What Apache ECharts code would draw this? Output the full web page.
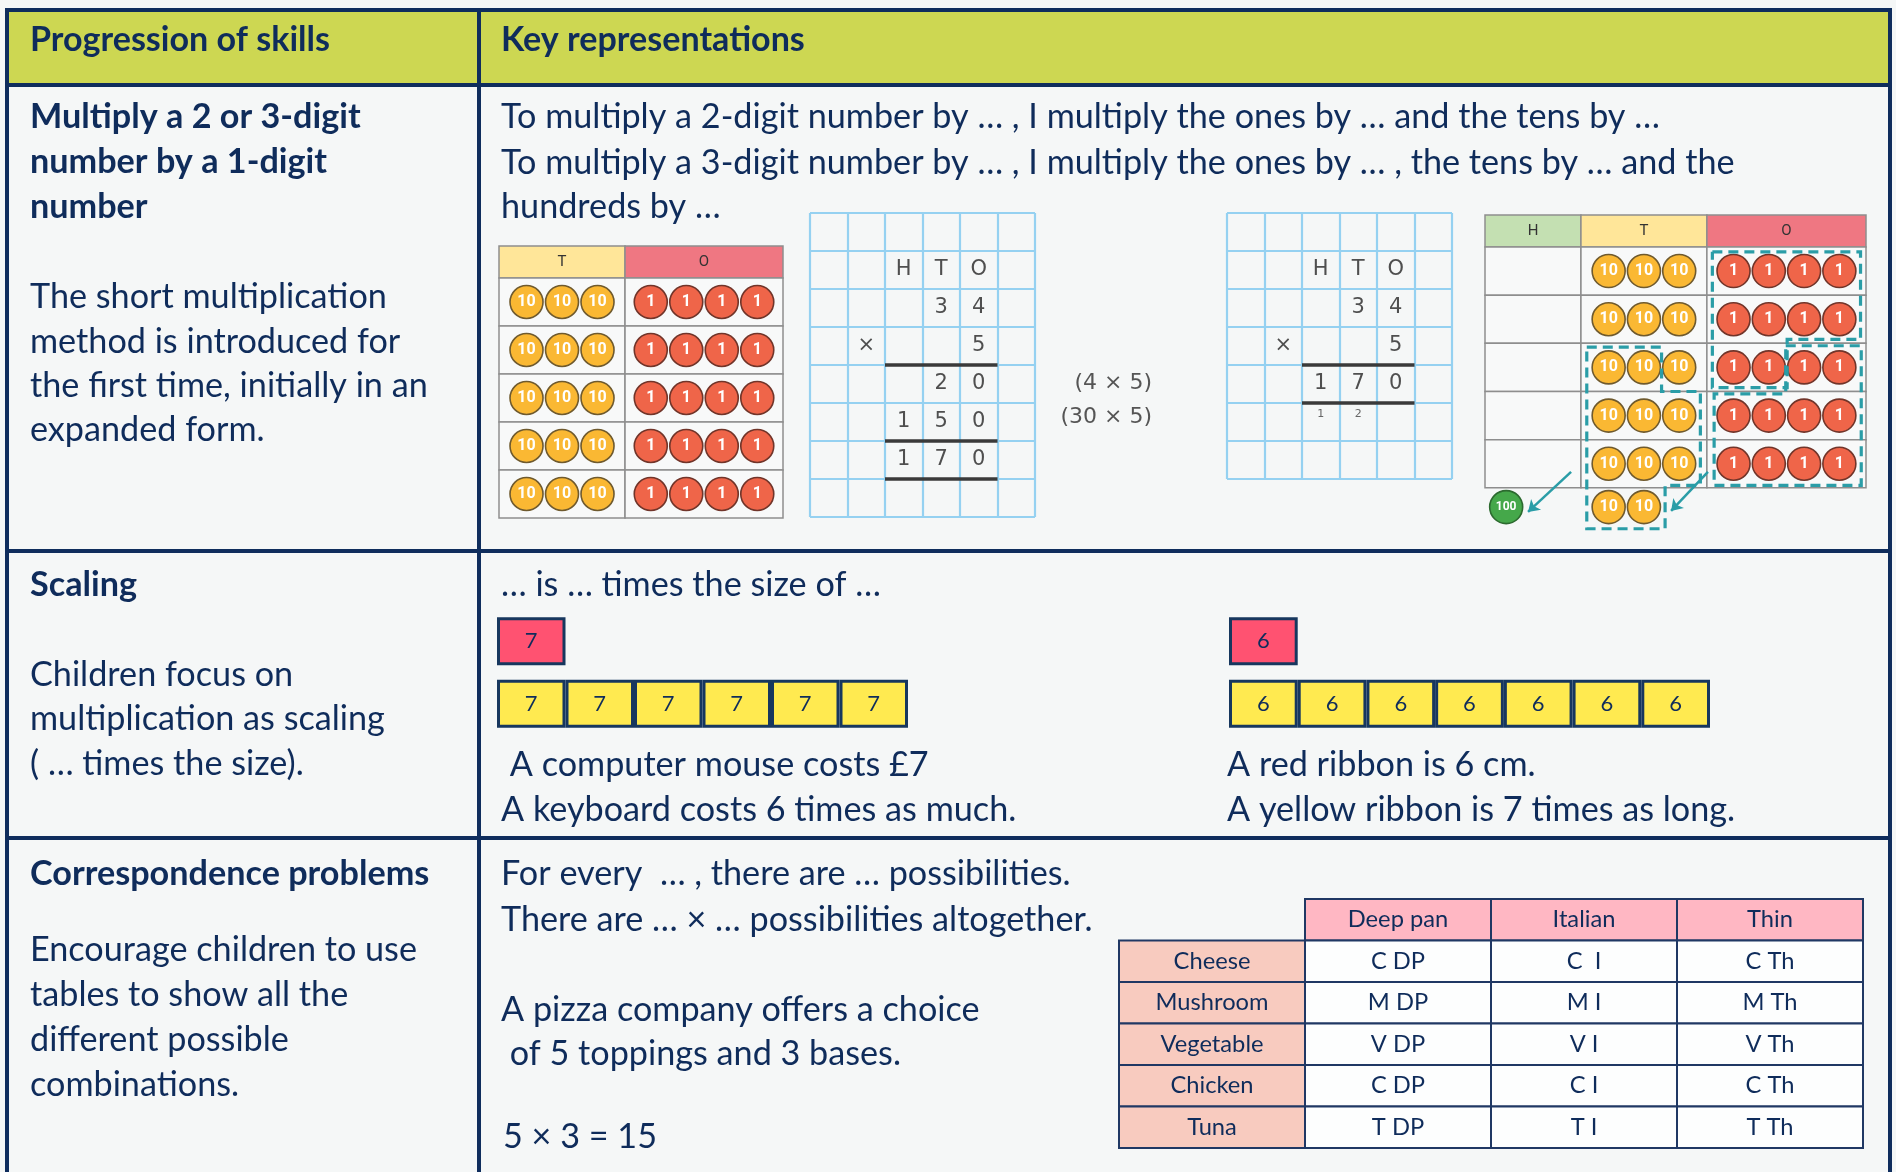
<!DOCTYPE html>
<html><head><meta charset="utf-8">
<script src="https://cdn.jsdelivr.net/npm/echarts@6/dist/echarts.min.js"></script>
<style>html,body{margin:0;padding:0;background:#F5F7F7}#c{width:1896px;height:1172px}</style>
</head><body><div id="c"></div>
<script>
// ================= DATA =================
const headerTitles = ['Progression of skills', 'Key representations'];
const skillTitles = [['Multiply a 2 or 3-digit', 'number by a 1-digit', 'number'], ['Scaling'], ['Correspondence problems']];
const skillNotes = [
  ['The short multiplication', 'method is introduced for', 'the first time, initially in an', 'expanded form.'],
  ['Children focus on', 'multiplication as scaling', '( … times the size).'],
  ['Encourage children to use', 'tables to show all the', 'different possible', 'combinations.']
];
const multiplyStems = [
  'To multiply a 2-digit number by … , I multiply the ones by … and the tens by …',
  'To multiply a 3-digit number by … , I multiply the ones by … , the tens by … and the',
  'hundreds by …'
];
// place-value counters: 34 x 5
const toColumns = ['T', 'O'];
const toTensPerRow = [3, 3, 3, 3, 3];
const toOnesPerRow = [4, 4, 4, 4, 4];
const htoColumns = ['H', 'T', 'O'];
const htoTensPerRow = [3, 3, 3, 3, 3];
const htoOnesPerRow = [4, 4, 4, 4, 4];
const htoNewHundreds = 1;
const htoCarriedTens = 2;
const counterValues = { hundreds: 100, tens: 10, ones: 1 };
// written methods
const expandedRows = [
  ['', '', '', '', '', ''],
  ['', '', 'H', 'T', 'O', ''],
  ['', '', '', '3', '4', ''],
  ['', '×', '', '', '5', ''],
  ['', '', '', '2', '0', ''],
  ['', '', '1', '5', '0', ''],
  ['', '', '1', '7', '0', ''],
  ['', '', '', '', '', '']
];
const expandedRuleRows = [3, 5, 6];
const expandedNotes = ['(4 × 5)', '(30 × 5)'];
const compactRows = [
  ['', '', '', '', '', ''],
  ['', '', 'H', 'T', 'O', ''],
  ['', '', '', '3', '4', ''],
  ['', '×', '', '', '5', ''],
  ['', '', '1', '7', '0', ''],
  ['', '', '', '', '', ''],
  ['', '', '', '', '', '']
];
const compactCarries = ['', '', '1', '2', '', ''];
const compactCarryRow = 5;
const compactRuleRows = [3, 4];
// scaling
const scalingStem = '… is … times the size of …';
const mouseCost = 7, keyboardTimes = 6;
const mouseText = [' A computer mouse costs £7', 'A keyboard costs 6 times as much.'];
const ribbonLength = 6, ribbonTimes = 7;
const ribbonText = ['A red ribbon is 6 cm.', 'A yellow ribbon is 7 times as long.'];
// correspondence
const pizzaStems = ['For every  … , there are … possibilities.', 'There are … × … possibilities altogether.'];
const pizzaProblem = ['A pizza company offers a choice', ' of 5 toppings and 3 bases.'];
const pizzaAnswer = '5 × 3 = 15';
const pizzaBases = ['Deep pan', 'Italian', 'Thin'];
const pizzaToppings = ['Cheese', 'Mushroom', 'Vegetable', 'Chicken', 'Tuna'];
const pizzaCombos = [
  ['C DP', 'C  I', 'C Th'],
  ['M DP', 'M I', 'M Th'],
  ['V DP', 'V I', 'V Th'],
  ['C DP', 'C I', 'C Th'],
  ['T DP', 'T I', 'T Th']
];

// ================= STYLE / LAYOUT =================
const NAVY = '#0F2D5D', INK = '#0F2C5B', BG = '#F5F7F7', HEAD = '#CDD752', TEAL = '#2A9DA7';
const FAMILY = 'Lato';
const mctx = document.createElement('canvas').getContext('2d');
function fitPx(text, target, weight) {
  mctx.font = (weight || 'normal') + ' 100px ' + FAMILY;
  return Math.round(1000 * target / mctx.measureText(text).width) / 10;
}
const bodyPx = fitPx(multiplyStems[0], 1158);
const boldPx = fitPx(skillTitles[2][0], 400, 'bold');
const headPx = fitPx(headerTitles[0], 300, 'bold');
const cellPx = fitPx('Mushroom', 113);
const BODY = bodyPx + 'px ' + FAMILY, BOLD = 'bold ' + boldPx + 'px ' + FAMILY, HBOLD = 'bold ' + headPx + 'px ' + FAMILY;

function txt(x, y, text, font, fill, align) {
  const a = align || 'left';
  return { type: 'text', x: x, y: y, silent: true, z: 10,
    style: { text: text, font: font, fill: fill || INK, align: a, verticalAlign: 'middle', textAlign: a, textVerticalAlign: 'middle' } };
}
function hline(y, x1, x2) { return { type: 'line', silent: true, z: 20, shape: { x1: x1, y1: y, x2: x2, y2: y }, style: { stroke: NAVY, lineWidth: 4 } }; }
function vline(x, y1, y2) { return { type: 'line', silent: true, z: 20, shape: { x1: x, y1: y1, x2: x, y2: y2 }, style: { stroke: NAVY, lineWidth: 4 } }; }

const FX0 = 7, FX1 = 1890, FDIV = 479, FY = [10, 85, 551, 838];
const LX = 30, RX = 501, RX2 = 1227;

const graphics = [
  { type: 'rect', silent: true, z: 1, shape: { x: FX0, y: FY[0], width: FX1 - FX0, height: FY[1] - FY[0] }, style: { fill: HEAD } },
  hline(FY[0], FX0 - 2, FX1 + 2), hline(FY[1], FX0, FX1), hline(FY[2], FX0, FX1), hline(FY[3], FX0, FX1),
  vline(FX0, FY[0], 1180), vline(FDIV, FY[0], 1180), vline(FX1, FY[0], 1180),
  txt(LX, 40, headerTitles[0], HBOLD), txt(RX, 40, headerTitles[1], HBOLD)
];
// left column
const titleY = [[117, 162, 207], [585], [874]];
const noteY = [[297, 342, 386, 430], [675, 719, 764], [950, 995, 1040, 1085]];
skillTitles.forEach((ls, r) => ls.forEach((l, i) => graphics.push(txt(LX, titleY[r][i], l, BOLD))));
skillNotes.forEach((ls, r) => ls.forEach((l, i) => graphics.push(txt(LX, noteY[r][i], l, BODY))));
// right column text
[117, 163, 207].forEach((y, i) => graphics.push(txt(RX, y, multiplyStems[i], BODY)));
graphics.push(txt(RX, 585, scalingStem, BODY));
graphics.push(txt(RX, 765, mouseText[0], BODY), txt(RX, 810, mouseText[1], BODY));
graphics.push(txt(RX2, 765, ribbonText[0], BODY), txt(RX2, 810, ribbonText[1], BODY));
graphics.push(txt(RX, 874, pizzaStems[0], BODY), txt(RX, 920, pizzaStems[1], BODY));
graphics.push(txt(RX, 1010, pizzaProblem[0], BODY), txt(RX, 1054, pizzaProblem[1], BODY));
graphics.push(txt(503, 1137, pizzaAnswer, BODY));
graphics.push(txt(1152, 383, expandedNotes[0], '22px DejaVu Sans', '#555', 'right'));
graphics.push(txt(1152, 417, expandedNotes[1], '22px DejaVu Sans', '#555', 'right'));

// ================= GRIDS =================
const gridBoxes = [
  { left: 499, top: 246, width: 284, height: 272 },   // 0 TO counters
  { left: 810, top: 213, width: 225, height: 304 },   // 1 expanded method
  { left: 1227, top: 213, width: 225, height: 266 },  // 2 compact method
  { left: 1485, top: 215, width: 381, height: 321 },  // 3 HTO counters
  { left: 497, top: 610, width: 411, height: 125 },   // 4 mouse bar model
  { left: 1229, top: 610, width: 481, height: 125 },  // 5 ribbon bar model
  { left: 1119, top: 899, width: 744, height: 249 }   // 6 pizza table
];
const toW = [3.55, 4.45], toHead = 0.667;
const htoW = [2.72, 3.57, 4.51], htoHead = 0.664;
const sum = a => a.reduce((s, v) => s + v, 0);
const hiddenVal = (min, max, inv) => ({ type: 'value', min: min, max: max, show: false, inverse: !!inv, splitLine: { show: false } });
const gridVal = (max, inv) => ({ type: 'value', min: 0, max: max, interval: 1, inverse: !!inv, axisLine: { show: false }, axisTick: { show: false }, axisLabel: { show: false },
  splitLine: { show: true, showMinLine: true, showMaxLine: true, lineStyle: { color: '#95D1F1', width: 2.2 } } });
const xAxes = [
  hiddenVal(0, sum(toW)), gridVal(expandedRows[0].length), gridVal(compactRows[0].length), hiddenVal(0, sum(htoW)),
  hiddenVal(0, mouseCost * keyboardTimes), hiddenVal(0, ribbonLength * ribbonTimes), hiddenVal(0, pizzaBases.length + 1)
];
const yAxes = [
  hiddenVal(0, toHead + toTensPerRow.length, true), gridVal(expandedRows.length, true), gridVal(compactRows.length, true),
  hiddenVal(0, htoHead + htoTensPerRow.length + 1, true),
  { type: 'category', data: ['unit', 'whole'], inverse: true, show: false },
  { type: 'category', data: ['unit', 'whole'], inverse: true, show: false },
  hiddenVal(0, pizzaToppings.length + 1, true)
];
xAxes.forEach((a, i) => a.gridIndex = i);
yAxes.forEach((a, i) => a.gridIndex = i);

function colStart(ws, k) { let s = 0; for (let i = 0; i < k; i++) s += ws[i]; return s; }
function colMid(ws, k) { return colStart(ws, k) + ws[k] / 2; }
function slotX(ws, k, i, n) { return colMid(ws, k) + (i - (n - 1) / 2); }

function cellSeries(gi, cells, z) {
  return {
    type: 'custom', xAxisIndex: gi, yAxisIndex: gi, z: z || 2, silent: true, clip: false, animation: false,
    encode: { x: [0, 2], y: [1, 3] },
    data: cells.map(c => [c.x0, c.y0, c.x1, c.y1]),
    renderItem: function (params, api) {
      const c = cells[params.dataIndex];
      const p0 = api.coord([api.value(0), api.value(1)]);
      const p1 = api.coord([api.value(2), api.value(3)]);
      const el = { type: 'rect',
        shape: { x: Math.min(p0[0], p1[0]), y: Math.min(p0[1], p1[1]), width: Math.abs(p1[0] - p0[0]), height: Math.abs(p1[1] - p0[1]) },
        style: { fill: c.fill || 'rgba(0,0,0,0)', stroke: c.stroke || null, lineWidth: c.lw || 0 } };
      if (c.text) {
        el.textContent = { style: { text: c.text, fill: c.color || INK, font: c.font, align: 'center', verticalAlign: 'middle' } };
        el.textConfig = { position: 'inside' };
      }
      return el;
    }
  };
}
const COUNTER = {
  hundreds: { fill: '#45A84A', stroke: '#2C6A2F', fs: 12 },
  tens: { fill: '#FAB833', stroke: '#6F5A2E', fs: 16 },
  ones: { fill: '#EF6549', stroke: '#71352A', fs: 16 }
};
function counterSeries(gi, pts, kind) {
  const st = COUNTER[kind];
  return { type: 'scatter', xAxisIndex: gi, yAxisIndex: gi, z: 4, silent: true, symbol: 'circle', symbolSize: 33, data: pts,
    itemStyle: { color: st.fill, borderColor: st.stroke, borderWidth: 1.6, opacity: 1 },
    label: { show: true, position: 'inside', formatter: String(counterValues[kind]), color: '#fff', fontFamily: 'Roboto', fontWeight: 'bold', fontSize: st.fs } };
}
const HEADFILL = { H: '#C4E0B2', T: '#FFE699', O: '#EF7782' };
function pvTableCells(ws, head, nRows, labels) {
  const cells = [];
  labels.forEach((lab, k) => {
    const x0 = colStart(ws, k), x1 = x0 + ws[k];
    cells.push({ x0: x0, y0: 0, x1: x1, y1: head, fill: HEADFILL[lab], stroke: '#8E8E8E', lw: 1.5, text: lab, font: '15px Roboto', color: '#333' });
    for (let r = 0; r < nRows; r++) cells.push({ x0: x0, y0: head + r, x1: x1, y1: head + r + 1, fill: '#F8F9F9', stroke: '#8E8E8E', lw: 1.5 });
  });
  return cells;
}
function countersIn(ws, col, head, perRow) {
  const pts = [];
  perRow.forEach((n, r) => { for (let i = 0; i < n; i++) pts.push([slotX(ws, col, i, n), head + r + 0.5]); });
  return pts;
}
function digitCells(rows, font) {
  const cells = [];
  rows.forEach((row, r) => row.forEach((t, c) => { if (t) cells.push({ x0: c, y0: r, x1: c + 1, y1: r + 1, text: t, font: font, color: '#4F4F4F' }); }));
  return cells;
}
function ruleSeries(gi, ruleRows) {
  return { type: 'lines', coordinateSystem: 'cartesian2d', xAxisIndex: gi, yAxisIndex: gi, z: 5, silent: true, symbol: 'none',
    lineStyle: { color: '#3A3A3A', width: 3.5, opacity: 1 },
    data: ruleRows.map(r => ({ coords: [[2, r + 1], [5, r + 1]] })) };
}

const series = [];
// --- TO table with counters (grid 0)
series.push(cellSeries(0, pvTableCells(toW, toHead, toTensPerRow.length, toColumns)));
series.push(counterSeries(0, countersIn(toW, 0, toHead, toTensPerRow), 'tens'));
series.push(counterSeries(0, countersIn(toW, 1, toHead, toOnesPerRow), 'ones'));
// --- expanded method (grid 1)
series.push(cellSeries(1, digitCells(expandedRows, '21px DejaVu Sans')));
series.push(ruleSeries(1, expandedRuleRows));
// --- compact method (grid 2)
const carryCells = [];
compactCarries.forEach((t, c) => { if (t) carryCells.push({ x0: c, y0: compactCarryRow, x1: c + 1, y1: compactCarryRow + 0.6, text: t, font: '11px DejaVu Sans', color: '#666' }); });
series.push(cellSeries(2, digitCells(compactRows, '21px DejaVu Sans').concat(carryCells)));
series.push(ruleSeries(2, compactRuleRows));
// --- HTO table with regrouping (grid 3)
series.push(cellSeries(3, pvTableCells(htoW, htoHead, htoTensPerRow.length, htoColumns)));
series.push(counterSeries(3, countersIn(htoW, 1, htoHead, htoTensPerRow), 'tens'));
series.push(counterSeries(3, countersIn(htoW, 2, htoHead, htoOnesPerRow), 'ones'));
const extraY = htoHead + htoTensPerRow.length + 0.4;
const hundPts = []; for (let i = 0; i < htoNewHundreds; i++) hundPts.push([colStart(htoW, 0) + 0.6 + i, extraY]);
const carryPts = []; for (let i = 0; i < htoCarriedTens; i++) carryPts.push([slotX(htoW, 1, i, 3), extraY]);
series.push(counterSeries(3, hundPts, 'hundreds'));
series.push(counterSeries(3, carryPts, 'tens'));
const tx = i => slotX(htoW, 1, i, 3), ox = i => slotX(htoW, 2, i, 4), ry = r => htoHead + r + 0.5;
const onesGroupA = [[ox(0) - 0.6, ry(0) - 0.4], [ox(3) + 0.6, ry(0) - 0.4], [ox(3) + 0.6, ry(1) + 0.42], [ox(1) + 0.52, ry(1) + 0.42], [ox(1) + 0.52, ry(2) + 0.42], [ox(0) - 0.6, ry(2) + 0.42], [ox(0) - 0.6, ry(0) - 0.4]];
const onesGroupB = [[ox(2) - 0.52, ry(2) - 0.45], [ox(3) + 0.62, ry(2) - 0.45], [ox(3) + 0.62, ry(4) + 0.45], [ox(0) - 0.55, ry(4) + 0.45], [ox(0) - 0.55, ry(2) + 0.55], [ox(2) - 0.52, ry(2) + 0.55], [ox(2) - 0.52, ry(2) - 0.45]];
const tensGroup = [[tx(0) - 0.62, ry(2) - 0.42], [tx(1) + 0.5, ry(2) - 0.42], [tx(1) + 0.5, ry(2) + 0.5], [tx(2) + 0.6, ry(2) + 0.5], [tx(2) + 0.6, ry(4) + 0.45], [tx(1) + 0.6, ry(4) + 0.45], [tx(1) + 0.6, extraY + 0.45], [tx(0) - 0.62, extraY + 0.45], [tx(0) - 0.62, ry(2) - 0.42]];
series.push({ type: 'lines', coordinateSystem: 'cartesian2d', xAxisIndex: 3, yAxisIndex: 3, polyline: true, z: 6, silent: true, symbol: 'none',
  lineStyle: { color: TEAL, width: 3.2, type: [10, 6], opacity: 1 }, data: [onesGroupA, onesGroupB, tensGroup].map(p => ({ coords: p })) });
series.push({ type: 'lines', coordinateSystem: 'cartesian2d', xAxisIndex: 3, yAxisIndex: 3, z: 6, silent: true, symbol: ['none', 'arrow'], symbolSize: 11,
  lineStyle: { color: TEAL, width: 2.5, opacity: 1 },
  data: [{ coords: [[htoW[0] - 0.28, ry(4) + 0.17], [hundPts[0][0] + 0.62, extraY + 0.1]] },
         { coords: [[colStart(htoW, 2) + 0.03, ry(4) + 0.17], [tx(1) + 0.77, extraY + 0.08]] }] });
// --- bar models (grids 4, 5)
function barModel(gi, unit, times) {
  const base = { type: 'bar', xAxisIndex: gi, yAxisIndex: gi, stack: 'model' + gi, barWidth: 48, silent: true, z: 3,
    label: { show: true, position: 'inside', formatter: '{c}', color: INK, fontFamily: FAMILY, fontSize: 22 } };
  const out = [Object.assign({}, base, { data: [unit, '-'], itemStyle: { color: '#FF5271', borderColor: '#17375E', borderWidth: 3 } })];
  for (let k = 0; k < times; k++) out.push(Object.assign({}, base, { data: ['-', unit], itemStyle: { color: '#FFEA50', borderColor: '#17375E', borderWidth: 3 } }));
  return out;
}
barModel(4, mouseCost, keyboardTimes).forEach(s => series.push(s));
barModel(5, ribbonLength, ribbonTimes).forEach(s => series.push(s));
// --- pizza table (grid 6)
const pizzaCells = [];
const PF = cellPx + 'px ' + FAMILY;
pizzaBases.forEach((b, c) => pizzaCells.push({ x0: c + 1, y0: 0, x1: c + 2, y1: 1, fill: '#FFB7C3', stroke: '#203864', lw: 2, text: b, font: PF }));
pizzaToppings.forEach((t, r) => {
  pizzaCells.push({ x0: 0, y0: r + 1, x1: 1, y1: r + 2, fill: '#F8CBBF', stroke: '#203864', lw: 2, text: t, font: PF });
  pizzaCombos[r].forEach((v, c) => pizzaCells.push({ x0: c + 1, y0: r + 1, x1: c + 2, y1: r + 2, fill: '#FDFEFE', stroke: '#203864', lw: 2, text: v, font: PF }));
});
series.push(cellSeries(6, pizzaCells));

const chart = echarts.init(document.getElementById('c'), null, { renderer: 'canvas' });
chart.setOption({
  backgroundColor: BG,
  animation: false,
  grid: gridBoxes.map(b => Object.assign({ containLabel: false, outerBoundsMode: 'none' }, b)),
  xAxis: xAxes,
  yAxis: yAxes,
  series: series,
  graphic: { elements: graphics }
});
</script>
</body></html>
